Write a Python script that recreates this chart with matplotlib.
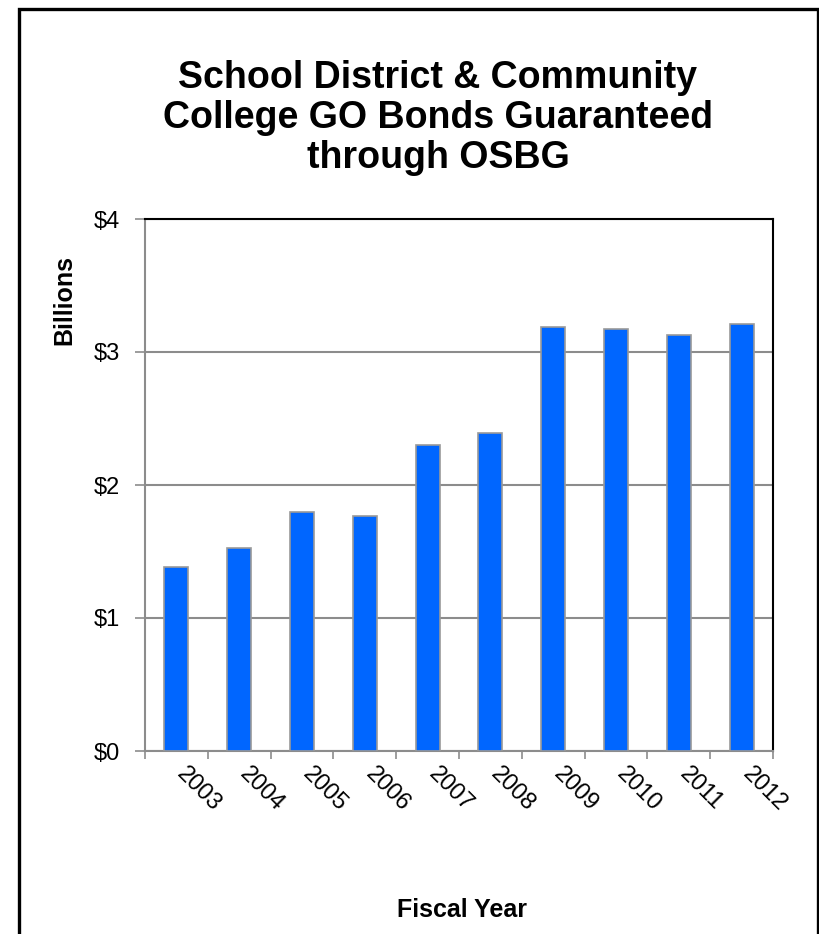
import matplotlib
matplotlib.use("Agg")
import matplotlib.pyplot as plt
from matplotlib.patches import Rectangle
from matplotlib.ticker import FixedLocator, NullFormatter

years = ["2003", "2004", "2005", "2006", "2007", "2008", "2009", "2010", "2011", "2012"]
values = [1.38, 1.53, 1.80, 1.77, 2.30, 2.39, 3.19, 3.17, 3.13, 3.21]
yticks = [0, 1, 2, 3, 4]
ytick_labels = ["$0", "$1", "$2", "$3", "$4"]
title = "School District & Community\nCollege GO Bonds Guaranteed\nthrough OSBG"

plt.rcParams['font.family'] = ['Liberation Sans', 'DejaVu Sans']

W, H = 819, 934
fig = plt.figure(figsize=(W / 100, H / 100), dpi=100)

# outer border
fig.patches.append(Rectangle((19 / W, -0.01), (818 - 19) / W, (H - 9) / H + 0.01,
                             transform=fig.transFigure, fill=False,
                             edgecolor="black", linewidth=2.4))

L, R, T, B = 145, 773, 219, 751
ax = fig.add_axes([L / W, 1 - B / H, (R - L) / W, (B - T) / H])
x = list(range(len(years)))
ax.bar(x, values, width=0.38, color="#0066FF", edgecolor="#999999", linewidth=1.2, zorder=3)
ax.set_xlim(-0.5, len(years) - 0.5)
ax.set_ylim(0, 4)
ax.set_yticks(yticks)
ax.set_yticklabels(ytick_labels, fontsize=17)
ax.yaxis.grid(True, color="#8c8c8c", linewidth=1.5, zorder=0)
ax.set_axisbelow(True)

ax.xaxis.set_major_locator(FixedLocator([i - 0.5 for i in range(len(years) + 1)]))
ax.xaxis.set_major_formatter(NullFormatter())
ax.tick_params(axis="x", length=6, color="#8c8c8c", width=1.2, direction="out")
ax.tick_params(axis="y", length=7, color="#8c8c8c", width=1.2, direction="out", pad=11)

for s in ["left", "bottom"]:
    ax.spines[s].set_color("#8c8c8c")
    ax.spines[s].set_linewidth(1.5)
for s in ["top", "right"]:
    ax.spines[s].set_color("black")
    ax.spines[s].set_linewidth(1.5)

for i, yr in enumerate(years):
    ax.annotate(yr, xy=(i, 0), xycoords=("data", "axes fraction"),
                xytext=(8.5, -8.5), textcoords="offset points",
                rotation=-45, rotation_mode="anchor", ha="left", va="top",
                fontsize=17)

fig.text(438 / W, 1 - 118 / H, title, ha="center", va="center",
         fontsize=27, fontweight="bold", linespacing=1.15)
fig.text(64 / W, 1 - 300 / H, "Billions", rotation=90, ha="center", va="center",
         fontsize=18, fontweight="bold")
fig.text(462 / W, 1 - 910 / H, "Fiscal Year", ha="center", va="center",
         fontsize=18, fontweight="bold")

fig.savefig("out.png", dpi=100)
